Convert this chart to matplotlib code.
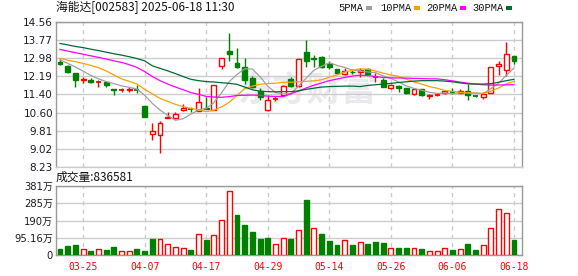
import numpy as np
import matplotlib
matplotlib.use("Agg")
import matplotlib.pyplot as plt
from matplotlib.patches import Rectangle

plt.rcParams['font.family'] = ['DejaVu Sans', 'Noto Sans CJK SC']

title = "海能达[002583] 2025-06-18 11:30"
vol_title = "成交量:836581"

dates = ['03-20', '03-21', '03-24', '03-25', '03-26', '03-27', '03-28', '03-31', '04-01', '04-02',
         '04-03', '04-07', '04-08', '04-09', '04-10', '04-11', '04-14', '04-15', '04-16', '04-17',
         '04-18', '04-21', '04-22', '04-23', '04-24', '04-25', '04-28', '04-29', '04-30', '05-06',
         '05-07', '05-08', '05-09', '05-12', '05-13', '05-14', '05-15', '05-16', '05-19', '05-20',
         '05-21', '05-22', '05-23', '05-26', '05-27', '05-28', '05-29', '05-30', '06-03', '06-04',
         '06-05', '06-06', '06-09', '06-10', '06-11', '06-12', '06-13', '06-16', '06-17', '06-18']

opens = [12.80, 12.66, 12.32, 12.04, 12.04, 11.94, 11.95, 11.63, 11.57, 11.60,
         11.60, 10.89, 9.66, 9.60, 10.37, 10.35, 10.70, 10.77, 10.67, 10.81,
         10.71, 12.66, 13.30, 12.79, 12.61, 12.10, 11.56, 10.71, 11.17, 11.37,
         12.06, 11.77, 13.24, 13.01, 13.03, 12.74, 12.51, 12.29, 12.40, 12.37,
         12.53, 12.16, 12.04, 11.66, 11.77, 11.66, 11.40, 11.62, 11.33, 11.37,
         11.45, 11.52, 11.47, 11.55, 11.34, 11.27, 11.47, 12.66, 12.46, 13.08]
highs = [12.95, 12.69, 12.34, 12.17, 12.10, 12.03, 11.97, 11.63, 11.66, 11.73,
         11.81, 10.91, 10.13, 10.24, 10.63, 10.61, 10.99, 10.86, 11.68, 11.30,
         11.82, 12.99, 14.11, 13.42, 12.98, 12.20, 11.66, 11.37, 11.33, 11.79,
         12.15, 12.98, 13.78, 13.12, 13.08, 12.87, 12.53, 12.57, 12.50, 12.54,
         12.56, 12.32, 12.10, 11.85, 11.81, 11.68, 11.66, 11.64, 11.41, 11.47,
         11.60, 11.66, 11.62, 11.85, 11.38, 11.51, 12.60, 12.86, 13.71, 13.09]
lows = [12.70, 12.32, 11.73, 11.88, 11.88, 11.73, 11.73, 11.36, 11.49, 11.51,
        11.47, 10.40, 9.40, 8.84, 10.35, 10.33, 10.67, 10.64, 10.65, 10.74,
        10.70, 12.50, 12.88, 12.54, 11.85, 11.66, 11.15, 10.69, 11.12, 11.35,
        11.70, 11.74, 12.61, 12.61, 12.56, 12.50, 12.30, 12.25, 12.29, 12.17,
        12.25, 11.95, 11.70, 11.62, 11.52, 11.42, 11.38, 11.34, 11.21, 11.33,
        11.42, 11.41, 11.45, 11.15, 11.28, 11.18, 11.45, 12.25, 12.20, 12.73]
closes = [12.72, 12.39, 12.03, 12.07, 11.95, 11.96, 11.80, 11.57, 11.59, 11.63,
          11.58, 10.42, 9.79, 10.13, 10.42, 10.52, 10.81, 10.75, 11.05, 10.76,
          11.81, 12.98, 13.18, 12.61, 12.03, 11.74, 11.27, 11.15, 11.19, 11.77,
          11.76, 12.94, 12.88, 12.95, 12.60, 12.58, 12.33, 12.42, 12.37, 12.46,
          12.30, 12.18, 11.74, 11.81, 11.67, 11.44, 11.63, 11.36, 11.37, 11.39,
          11.55, 11.50, 11.56, 11.35, 11.32, 11.41, 12.59, 12.72, 13.16, 12.87]
pre_close = 12.85

# volume in 万
volume = [33, 50, 55, 31, 22, 31, 28, 44, 20, 20,
          33, 22, 88, 86, 59, 42, 37, 28, 114, 83,
          109, 191, 352, 223, 166, 127, 88, 94, 61, 92,
          88, 136, 304, 147, 116, 77, 55, 81, 55, 70,
          61, 72, 66, 37, 39, 39, 37, 33, 20, 20,
          37, 28, 31, 61, 28, 53, 147, 252, 232, 83.66]

ma5 = [12.91, 12.76, 12.60, 12.42, 12.23, 12.08, 11.96, 11.87, 11.77, 11.71,
       11.63, 11.36, 11.00, 10.71, 10.47, 10.26, 10.33, 10.53, 10.71, 10.78,
       11.04, 11.47, 11.96, 12.27, 12.52, 12.51, 12.17, 11.76, 11.48, 11.42,
       11.43, 11.76, 12.11, 12.46, 12.63, 12.79, 12.67, 12.58, 12.46, 12.43,
       12.38, 12.35, 12.21, 12.10, 11.94, 11.77, 11.66, 11.58, 11.49, 11.44,
       11.46, 11.43, 11.47, 11.47, 11.46, 11.43, 11.65, 11.88, 12.24, 12.55]
ma10 = [12.98, 12.90, 12.83, 12.76, 12.67, 12.57, 12.43, 12.25, 12.08, 11.97,
        11.85, 11.62, 11.42, 11.22, 11.09, 10.96, 10.86, 10.78, 10.72, 10.64,
        10.70, 10.85, 11.05, 11.35, 11.65, 11.76, 11.84, 11.87, 11.89, 11.93,
        11.93, 11.95, 11.97, 11.99, 12.04, 12.15, 12.25, 12.38, 12.45, 12.52,
        12.50, 12.42, 12.33, 12.25, 12.19, 12.06, 11.95, 11.85, 11.74, 11.67,
        11.57, 11.53, 11.49, 11.46, 11.45, 11.44, 11.54, 11.68, 11.86, 11.97]
ma20 = [13.37, 13.30, 13.23, 13.16, 13.09, 13.02, 12.95, 12.87, 12.80, 12.70,
        12.58, 12.40, 12.18, 12.00, 11.85, 11.72, 11.60, 11.48, 11.40, 11.31,
        11.28, 11.27, 11.30, 11.35, 11.36, 11.37, 11.35, 11.32, 11.31, 11.30,
        11.42, 11.55, 11.68, 11.80, 11.90, 12.00, 12.07, 12.14, 12.20, 12.24,
        12.22, 12.18, 12.14, 12.12, 12.12, 12.11, 12.10, 12.09, 12.08, 12.08,
        12.04, 11.99, 11.94, 11.89, 11.85, 11.82, 11.81, 11.81, 11.82, 11.82]
ma30 = [13.63, 13.57, 13.50, 13.45, 13.38, 13.32, 13.25, 13.18, 13.12, 13.05,
        12.97, 12.87, 12.65, 12.54, 12.43, 12.31, 12.18, 12.06, 12.00, 11.96,
        11.94, 11.91, 11.88, 11.84, 11.72, 11.60, 11.54, 11.52, 11.51, 11.52,
        11.52, 11.55, 11.62, 11.67, 11.72, 11.74, 11.75, 11.76, 11.76, 11.74,
        11.79, 11.82, 11.85, 11.88, 11.92, 11.95, 11.98, 12.00, 12.00, 12.00,
        11.98, 11.95, 11.90, 11.86, 11.85, 11.85, 11.87, 11.93, 12.00, 12.06]

ma_names = ['5PMA', '10PMA', '20PMA', '30PMA']
ma_colors = ['#a0a0a0', '#f5a300', '#ff00ff', '#006a35']

price_labels = ['8.23', '9.02', '9.81', '10.60', '11.40', '12.19', '12.98', '13.77', '14.56']
vol_ticks = [0, 95.16, 190.32, 285.48, 380.64]
vol_labels = ['0', '95.16万', '190万', '285万', '381万']

RED = '#ff0000'
GREEN = '#008000'
GRID = '#cccccc'
FRAME = '#999999'
LABEL = '#1a1a2a'

W, H = 578, 276
fig = plt.figure(figsize=(W / 100, H / 100), dpi=100)


def px_axes(l, t, r, b):
    return fig.add_axes([l / W, 1 - b / H, (r - l) / W, (b - t) / H])


ax = px_axes(56, 22.3, 522, 166.6)
axv = px_axes(56, 186, 522, 255)

x = np.arange(len(closes))
o, h, l, c = map(np.array, (opens, highs, lows, closes))
up = c >= o
bw = 0.64

# candles
for i in x:
    col = RED if up[i] else GREEN
    ax.vlines(i, l[i], h[i], color=col, lw=1, zorder=2)
    body = abs(c[i] - o[i])
    if body < 0.03:
        ax.hlines((c[i] + o[i]) / 2, i - bw / 2, i + bw / 2, color=col, lw=1.3, zorder=3)
    else:
        ax.bar(i, body, bw, bottom=min(o[i], c[i]),
               facecolor='white' if up[i] else col, edgecolor=col, lw=1, zorder=3)

for ma, col in zip([ma5, ma10, ma20, ma30], ma_colors):
    ax.plot(x, ma, color=col, lw=0.9, zorder=4)

ax.text(0.54, 0.53, '东方财富', transform=ax.transAxes, ha='center', va='center',
        fontsize=25, fontweight='bold', color='#eaeaee', family='Noto Sans CJK SC', zorder=0)

# volume, coloured by close vs previous close
prev = np.concatenate([[pre_close], c[:-1]])
vol_up = c >= prev
for i in x:
    col = RED if vol_up[i] else GREEN
    axv.bar(i, volume[i], bw, facecolor='white' if vol_up[i] else col,
            edgecolor=col, lw=1, zorder=3)

tick_idx = list(range(3, len(dates), 8))
for a in (ax, axv):
    a.set_xlim(-0.52, 60.04)
    a.set_xticks(tick_idx)
    a.grid(axis='x', color=GRID, lw=1, ls=(0, (3, 3)))
    a.grid(axis='y', color=GRID, lw=1, ls='-')
    a.set_axisbelow(True)
    a.tick_params(length=0, labelsize=7.5, labelcolor=LABEL, pad=2.2)
    for s in a.spines.values():
        s.set_color(FRAME)
        s.set_linewidth(1)

ax.spines['bottom'].set_color(GRID)
ax.set_ylim(8.23, 14.56)
ax.set_yticks([float(t) for t in price_labels])
ax.set_yticklabels(price_labels)
ax.set_xticklabels([])

axv.set_ylim(0, 380.64)
axv.set_yticks(vol_ticks)
axv.set_yticklabels(vol_labels, fontsize=7.2)
axv.set_xticklabels([dates[i] for i in tick_idx], color=RED, family='DejaVu Sans Mono', fontsize=7)
axv.tick_params(axis='x', pad=5)

fig.text(56 / W, 1 - 8 / H, title, ha='left', va='center', fontsize=8.5, color='#111111',
         family='Noto Sans CJK SC')
fig.text(56 / W, 1 - 177 / H, vol_title, ha='left', va='center', fontsize=8.5, color='#111111',
         family='Noto Sans CJK SC')

# legend: name followed by a small colour block
renderer = fig.canvas.get_renderer()
legend_x = [338, 380, 426, 472]
for name, col, lx in zip(ma_names, ma_colors, legend_x):
    t = fig.text(lx / W, 1 - 8 / H, name, ha='left', va='center', fontsize=7.5,
                 color='#111111', family='Liberation Mono')
    bb = t.get_window_extent(renderer=renderer)
    fig.patches.append(Rectangle(((bb.x1 + 3) / W, (H - 9.5) / H), 6 / W, 3 / H,
                                 transform=fig.transFigure, facecolor=col, edgecolor='none'))

fig.savefig('out.png', dpi=100)
